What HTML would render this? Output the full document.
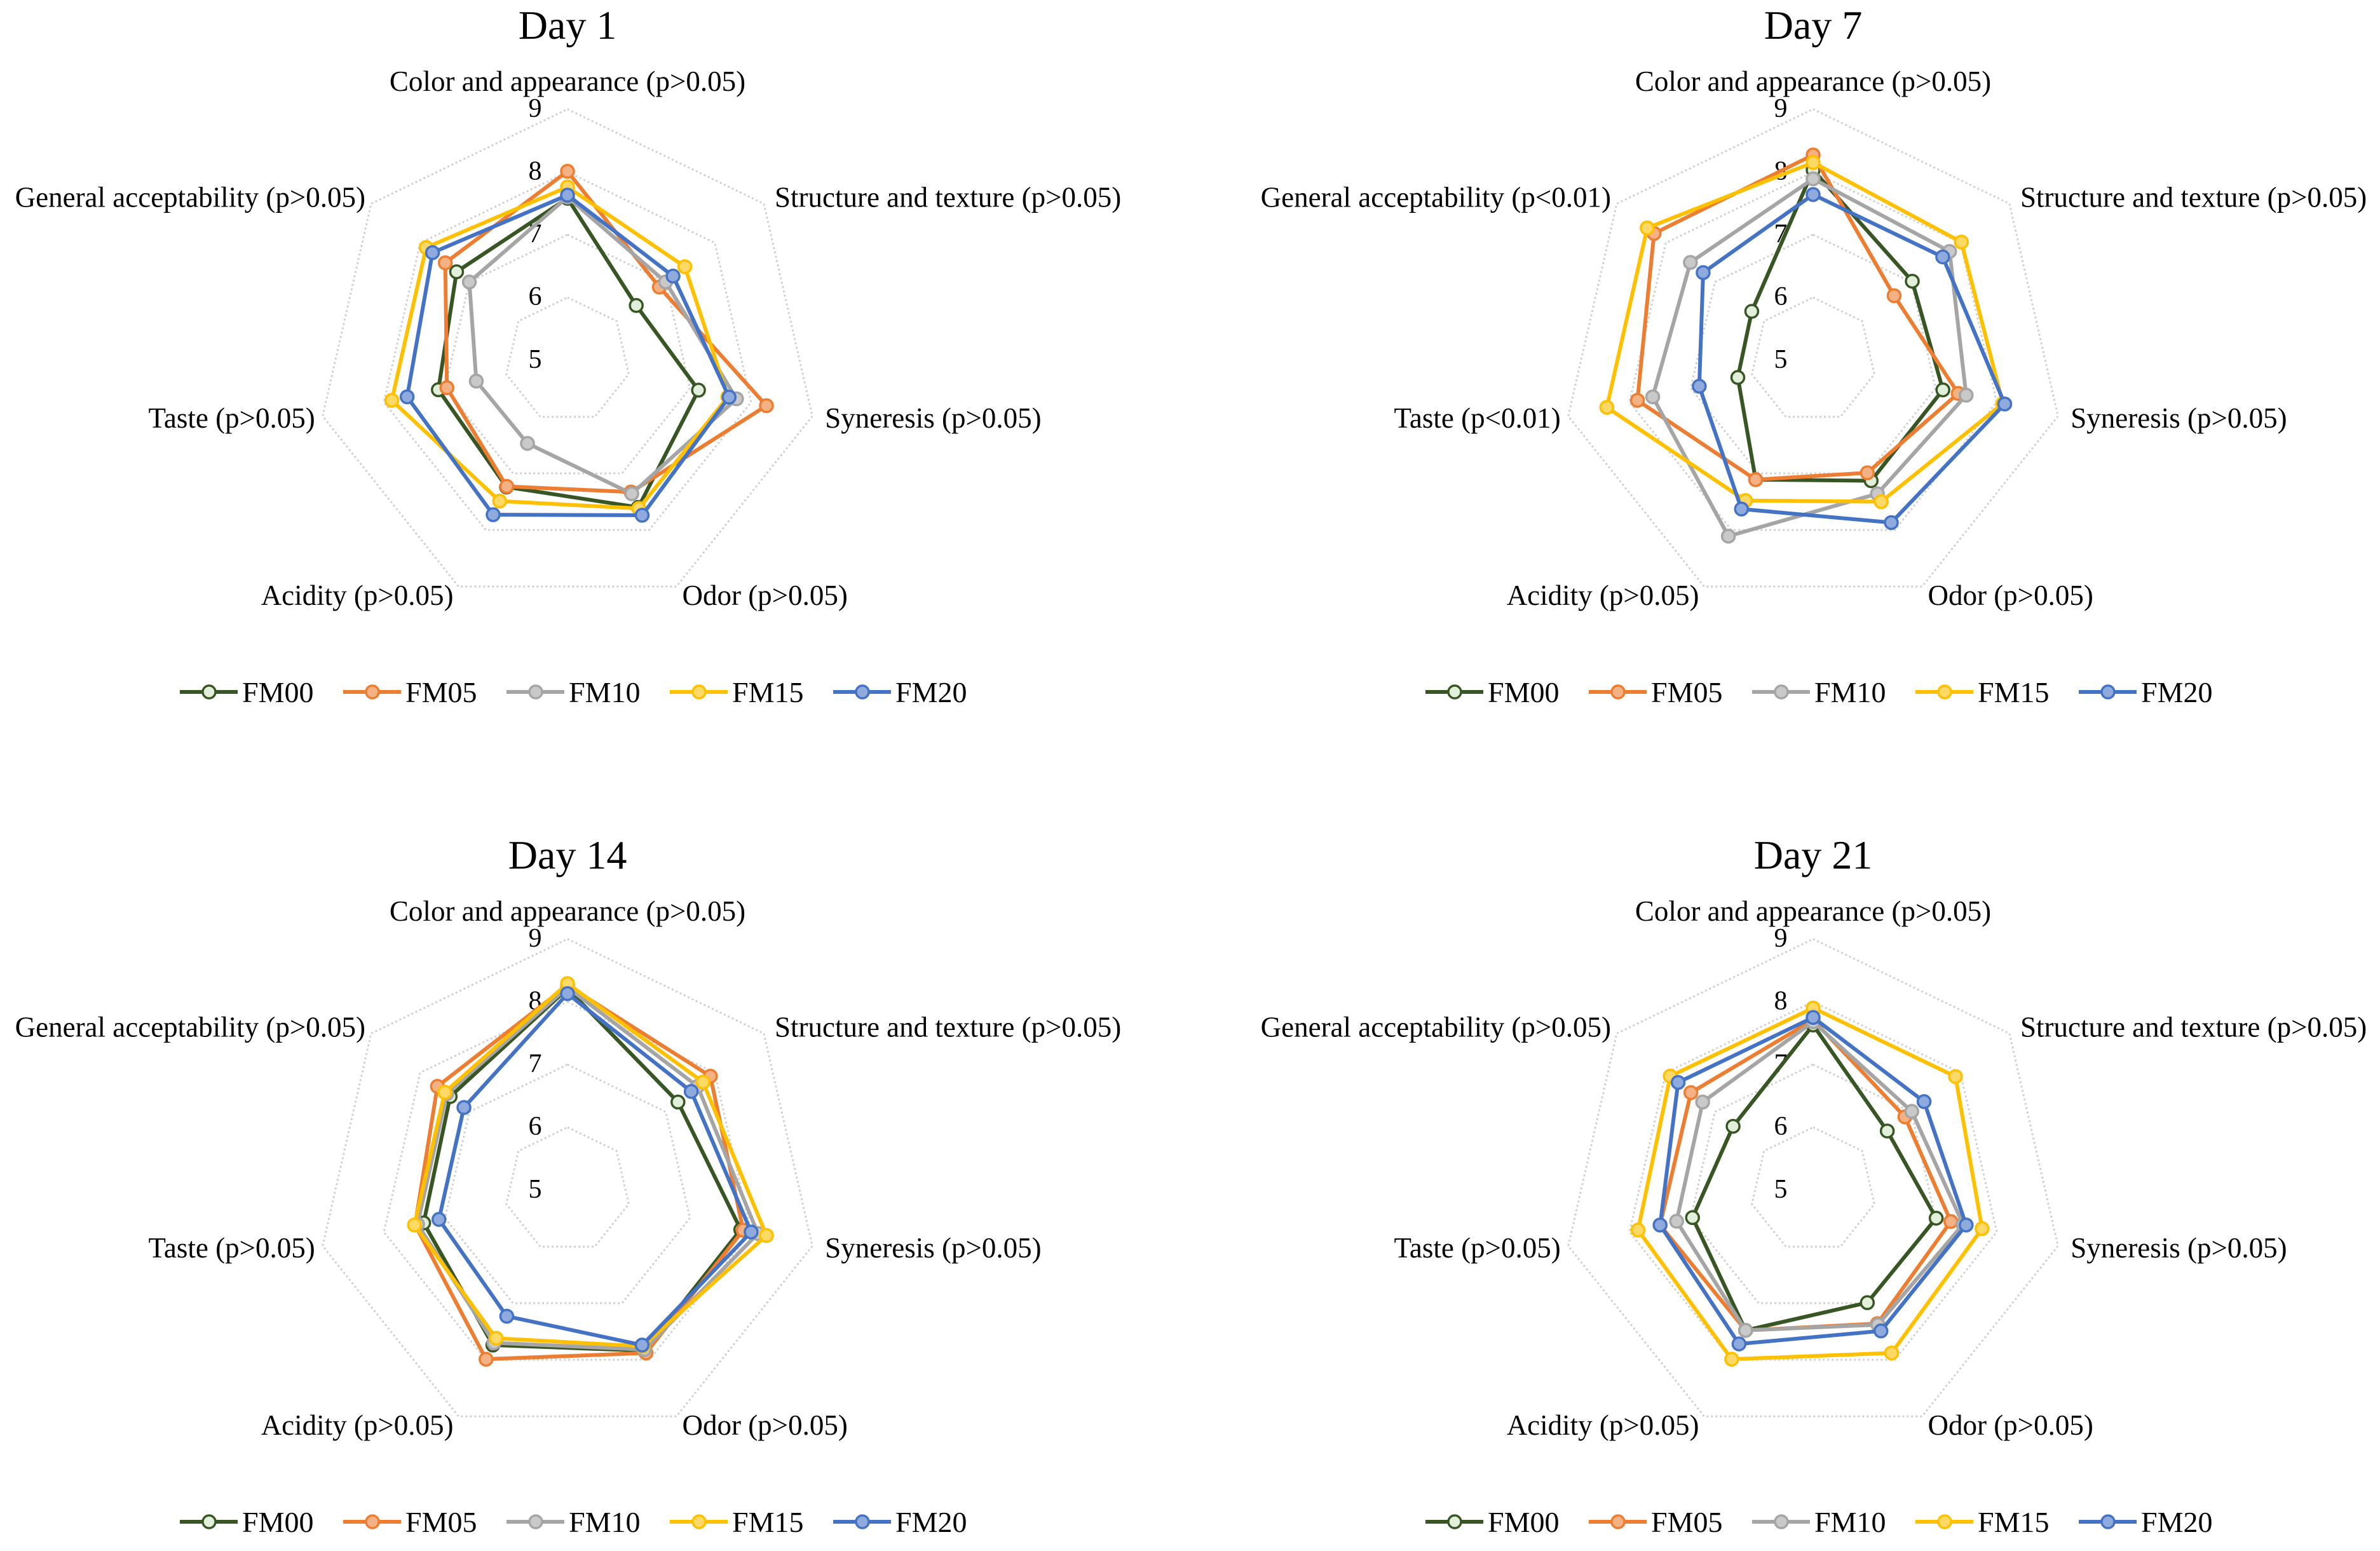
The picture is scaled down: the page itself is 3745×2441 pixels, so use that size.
<!DOCTYPE html>
<html><head><meta charset="utf-8"><style>
html,body{margin:0;padding:0;background:#fff}
svg{display:block}
text{font-family:"Liberation Serif",serif;fill:#000}
</style></head>
<body>
<svg id="chart" width="3745" height="2441" viewBox="0 0 3745 2441" xmlns="http://www.w3.org/2000/svg"></svg>
<script>
const series = ["FM00","FM05","FM10","FM15","FM20"];
const axesNames = ["Color and appearance","Structure and texture","Syneresis","Odor","Acidity","Taste","General acceptability"];
const pDay1 = ["p>0.05","p>0.05","p>0.05","p>0.05","p>0.05","p>0.05","p>0.05"];
const pDay7 = ["p>0.05","p>0.05","p>0.05","p>0.05","p>0.05","p<0.01","p<0.01"];
const pDay14 = ["p>0.05","p>0.05","p>0.05","p>0.05","p>0.05","p>0.05","p>0.05"];
const pDay21 = ["p>0.05","p>0.05","p>0.05","p>0.05","p>0.05","p>0.05","p>0.05"];
const ticks = [5,6,7,8,9];
const titles = ["Day 1","Day 7","Day 14","Day 21"];
// values per series: [Color, Structure, Syneresis, Odor, Acidity, Taste, GA]
const day1FM00 = [7.58,6.40,7.14,7.60,7.24,7.11,7.26];
const day1FM05 = [8.01,6.87,8.25,7.33,7.23,6.97,7.49];
const day1FM10 = [7.60,7.00,7.76,7.36,6.47,6.49,7.00];
const day1FM15 = [7.76,7.39,7.62,7.62,7.49,7.87,7.88];
const day1FM20 = [7.63,7.15,7.64,7.74,7.73,7.62,7.75];
const day7FM00 = [8.03,7.02,7.12,7.13,7.11,6.23,6.25];
const day7FM05 = [8.27,6.65,7.37,6.99,7.11,7.87,8.24];
const day7FM10 = [7.89,7.78,7.50,7.36,8.11,7.62,7.50];
const day7FM15 = [8.15,8.02,8.10,7.50,7.48,8.37,8.38];
const day7FM20 = [7.64,7.64,8.13,7.87,7.63,6.86,7.24];
const day14FM00 = [8.21,7.25,7.83,7.84,7.74,7.35,7.39];
const day14FM05 = [8.26,7.91,7.87,7.88,7.99,7.49,7.65];
const day14FM10 = [8.23,7.65,8.11,7.82,7.70,7.45,7.46];
const day14FM15 = [8.29,7.76,8.25,7.76,7.62,7.50,7.50];
const day14FM20 = [8.13,7.52,8.00,7.74,7.23,7.10,7.11];
const day21FM00 = [7.63,6.51,7.01,6.99,7.48,6.97,6.63];
const day21FM05 = [7.71,6.87,7.25,7.36,7.48,7.50,7.49];
const day21FM10 = [7.68,7.01,7.45,7.38,7.48,7.23,7.25];
const day21FM15 = [7.90,7.90,7.76,7.88,7.99,7.86,7.91];
const day21FM20 = [7.75,7.26,7.50,7.49,7.72,7.50,7.75];

const NS="http://www.w3.org/2000/svg";
const svg=document.getElementById('chart');
const lineColors=["#375623","#ed7d31","#a5a5a5","#ffc000","#4472c4"];
const fillColors=["#e2efda","#f4b183","#c9c9c9","#ffd966","#8faadc"];
const panels=[
 {cx:893,cy:567,data:[day1FM00,day1FM05,day1FM10,day1FM15,day1FM20],p:pDay1},
 {cx:2853,cy:567,data:[day7FM00,day7FM05,day7FM10,day7FM15,day7FM20],p:pDay7},
 {cx:893,cy:1873,data:[day14FM00,day14FM05,day14FM10,day14FM15,day14FM20],p:pDay14},
 {cx:2853,cy:1873,data:[day21FM00,day21FM05,day21FM10,day21FM15,day21FM20],p:pDay21}
];
const UNIT=98.8, VMIN=5;
function mk(tag,attrs,parent){const e=document.createElementNS(NS,tag);for(const k in attrs)e.setAttribute(k,attrs[k]);(parent||svg).appendChild(e);return e;}
function rScale(v){return (v-VMIN)*UNIT;}
function pt(cx,cy,k,v){const a=(-90+k*360/7)*Math.PI/180;const r=rScale(v);return [cx+r*Math.cos(a),cy+r*Math.sin(a)];}

panels.forEach((P,pi)=>{
  const g=mk('g',{});
  
  
  const t=mk('text',{x:P.cx,y:P.cy-506,'text-anchor':'middle','font-size':64},g);
  t.textContent=titles[pi];
  
  
  // grid rings
  ticks.slice(1).forEach(tv=>{
    const pts=[];for(let k=0;k<7;k++)pts.push(pt(P.cx,P.cy,k,tv).join(','));
    const ring=mk('polygon',{points:pts.join(' '),fill:'none',stroke:'#d0d0d0','stroke-width':3,'stroke-dasharray':'3 4'},g);
    
    
  });
  ticks.forEach(tv=>{
    const tl=mk('text',{x:P.cx-51,y:P.cy-rScale(tv)+12,'text-anchor':'middle','font-size':42},g);
    tl.textContent=tv;
    
    
  });
  // axis labels
  const off=[[0,-424,'middle'],[17,5,'start'],[20,18,'start'],[9,29,'start'],[-8,29,'end'],[-12,18,'end'],[-9,5,'end']];
  for(let k=0;k<7;k++){
    const v=pt(P.cx,P.cy,k,9);
    let x=v[0]+off[k][0], y=v[1]+off[k][1];
    if(k===0){x=P.cx;y=P.cy-424;}
    const al=mk('text',{x:x,y:y,'text-anchor':off[k][2],'font-size':45},g);
    al.textContent=axesNames[k]+' ('+P.p[k]+')';
    
    
  }
  // series
  P.data.forEach((vals,si)=>{
    const pts=vals.map((v,k)=>pt(P.cx,P.cy,k,v));
    const poly=mk('polygon',{points:pts.map(p=>p.join(',')).join(' '),fill:'none',stroke:lineColors[si],'stroke-width':6,'stroke-linejoin':'round'},g);
    
    
    pts.forEach(p=>{
      const c=mk('circle',{cx:p[0],cy:p[1],r:10,fill:fillColors[si],stroke:lineColors[si],'stroke-width':3.5},g);
      
      
    });
  });
  // legend
  const ly=P.cy+522, lx0=P.cx-610;
  series.forEach((s,si)=>{
    const lg=mk('g',{},g);
    
    
    const x=lx0+si*257;
    mk('line',{x1:x,y1:ly,x2:x+91,y2:ly,stroke:lineColors[si],'stroke-width':6},lg);
    mk('circle',{cx:x+46,cy:ly,r:10,fill:fillColors[si],stroke:lineColors[si],'stroke-width':3.5},lg);
    const lt=mk('text',{x:x+98,y:ly+16,'font-size':46},lg);
    lt.textContent=s;
  });
});
</script>
</body></html>
